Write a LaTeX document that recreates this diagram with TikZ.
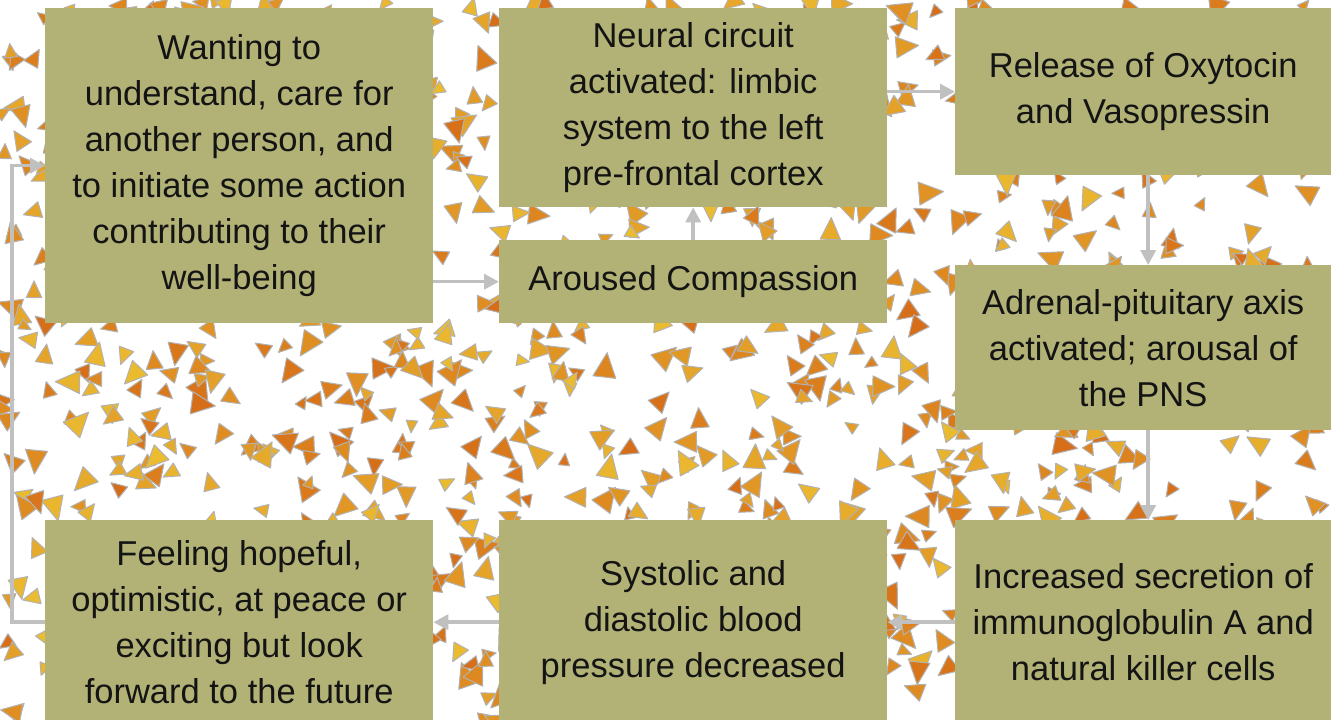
\documentclass[tikz,border=0pt]{standalone}
\usepackage{fontspec}
\setmainfont{Liberation Sans}
\usetikzlibrary{positioning,arrows.meta}
\definecolor{boxolive}{RGB}{178,178,118}
\definecolor{linkgray}{RGB}{192,192,192}
\definecolor{shardorange}{RGB}{214,108,24}
\definecolor{shardyellow}{RGB}{244,222,58}
\definecolor{textdark}{RGB}{20,20,20}

\begin{document}
\begin{tikzpicture}[
    x=1pt, y=-1pt,
    box/.style={
        fill=boxolive,
        anchor=north west,
        align=center,
        inner sep=0pt,
        text=textdark,
        font=\fontsize{34.5}{46}\selectfont
    },
    arrow/.style={
        -{Triangle[length=15pt,width=15pt]},
        line width=3.5pt,
        draw=linkgray
    },
    shard/.style={
        draw=gray!60,
        line width=1pt,
        line join=round
    }
]
\useasboundingbox[fill=white] (0,0) rectangle (1331,720);
% scattered background shards
\pgfmathsetseed{4321}
\foreach \i in {1,...,1150}{
    \pgfmathsetmacro\sx{rnd*1331}
    \pgfmathsetmacro\sy{rnd*720}
    \pgfmathsetmacro\sr{rnd*360}
    \pgfmathsetmacro\ss{7+rnd*8}
    \pgfmathtruncatemacro\sm{30+rnd*70}
    \fill[shard, fill=shardorange!\sm!shardyellow]
        (\sx,\sy) +(\sr:\ss pt) -- +(\sr+130:\ss pt) -- +(\sr+230:\ss pt) -- cycle;
}
\node[box, minimum width=388pt, minimum height=315pt] (A) at (45,8)
{Wanting to\\
understand, care for\\
another person, and\\
to initiate some action\\
contributing to their\\
well-being};
\node[box, minimum width=388pt, minimum height=199pt] (B) at (499,8)
{Neural circuit\\
activated: limbic\\
system to the left\\
pre-frontal cortex};
\node[box, minimum width=388pt, minimum height=83pt] (C) at (499,240)
{Aroused Compassion};
\node[box, minimum width=376pt, minimum height=167pt] (D) at (955,8)
{Release of Oxytocin\\
and Vasopressin};
\node[box, minimum width=376pt, minimum height=165pt] (E) at (955,265)
{Adrenal-pituitary axis\\
activated; arousal of\\
the PNS};
\node[box, minimum width=376pt, minimum height=204pt] (F) at (955,520)
{Increased secretion of\\
immunoglobulin A and\\
natural killer cells};
\node[box, minimum width=388pt, minimum height=204pt] (G) at (499,520)
{Systolic and\\
diastolic blood\\
pressure decreased};
\node[box, minimum width=388pt, minimum height=204pt] (H) at (45,520)
{Feeling hopeful,\\
optimistic, at peace or\\
exciting but look\\
forward to the future};
\draw[arrow] (A.east |- C.west) -- (C.west);
\draw[arrow] (C.north) -- (B.south);
\draw[arrow] (B.east |- D.west) -- (D.west);
\draw[arrow] ([xshift=5pt]D.south) -- ([xshift=5pt]E.north);
\draw[arrow] ([xshift=5pt]E.south) -- ([xshift=5pt]F.north);
\draw[arrow] (F.west) -- (G.east);
\draw[arrow] (G.west) -- (H.east);
\draw[arrow] (H.west) -- ++(-33,0) |- (A.west);
\end{tikzpicture}
\end{document}
